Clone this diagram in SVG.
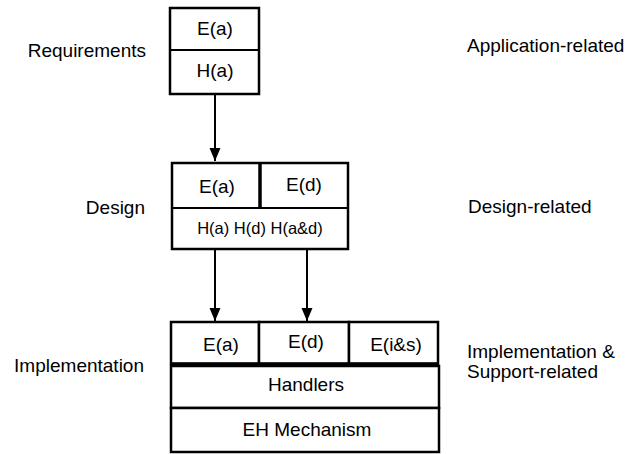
<svg xmlns="http://www.w3.org/2000/svg" width="641" height="454" viewBox="0 0 641 454">
  <style>
    .box { fill: #ffffff; stroke: #000000; stroke-width: 2.5; }
    .thick { stroke: #000000; stroke-width: 3.5; fill: none; }
    .edge { stroke: #000000; stroke-width: 2; fill: none; }
    text { font-family: "Liberation Sans", Arial, sans-serif; font-size: 19px; fill: #000000; }
    .c { text-anchor: middle; }
    .lbl { text-anchor: end; }
    .small { font-size: 16.5px; }
  </style>
  <defs>
    <marker id="head" markerWidth="11" markerHeight="13" refX="13" refY="5.5" orient="auto" markerUnits="userSpaceOnUse">
      <path d="M0,0 L13,5.5 L0,11 Z" fill="#000000"/>
    </marker>
  </defs>

  <!-- phase labels -->
  <g id="phase-labels">
    <text class="lbl" x="146" y="57">Requirements</text>
    <text class="lbl" x="145" y="214">Design</text>
    <text class="lbl" x="144" y="372">Implementation</text>
  </g>

  <!-- category labels -->
  <g id="category-labels">
    <text x="467" y="52">Application-related</text>
    <text x="468" y="213">Design-related</text>
    <text x="467" y="358">Implementation &amp;</text>
    <text x="467" y="378">Support-related</text>
  </g>

  <!-- requirements stack -->
  <g id="requirements">
    <rect class="box" x="170" y="8" width="89" height="86"/>
    <line class="edge" x1="170" y1="50" x2="259" y2="50" stroke-width="2.5"/>
    <text class="c" x="215" y="35">E(a)</text>
    <text class="c" x="215" y="77">H(a)</text>
  </g>

  <!-- design stack -->
  <g id="design">
    <rect class="box" x="172" y="163" width="176" height="86"/>
    <line class="edge" x1="172" y1="208" x2="348" y2="208" stroke-width="2.5"/>
    <line class="thick" x1="260" y1="163" x2="260" y2="208"/>
    <text class="c" x="217" y="193">E(a)</text>
    <text class="c" x="304" y="191">E(d)</text>
    <text class="c small" x="260" y="234">H(a) H(d) H(a&amp;d)</text>
  </g>

  <!-- implementation stack -->
  <g id="implementation">
    <rect class="box" x="171" y="322" width="88" height="42"/>
    <rect class="box" x="259" y="322" width="90" height="42" stroke-width="3.5"/>
    <rect class="box" x="349" y="322" width="89" height="42"/>
    <line class="thick" x1="171" y1="364" x2="438" y2="364"/>
    <text class="c" x="221" y="351">E(a)</text>
    <text class="c" x="306" y="348">E(d)</text>
    <text class="c" x="396" y="351">E(i&amp;s)</text>
  </g>

  <g id="handlers">
    <rect class="box" x="171" y="366" width="268" height="42"/>
    <text class="c" x="306" y="391">Handlers</text>
  </g>

  <g id="eh-mechanism">
    <rect class="box" x="171" y="408" width="268" height="44"/>
    <text class="c" x="307" y="436">EH Mechanism</text>
  </g>

  <!-- connectors -->
  <g id="connectors">
    <line class="edge" x1="215" y1="95" x2="215" y2="161" marker-end="url(#head)"/>
    <line class="edge" x1="215" y1="250" x2="215" y2="321" marker-end="url(#head)"/>
    <line class="edge" x1="307" y1="250" x2="307" y2="321" marker-end="url(#head)"/>
  </g>
</svg>
